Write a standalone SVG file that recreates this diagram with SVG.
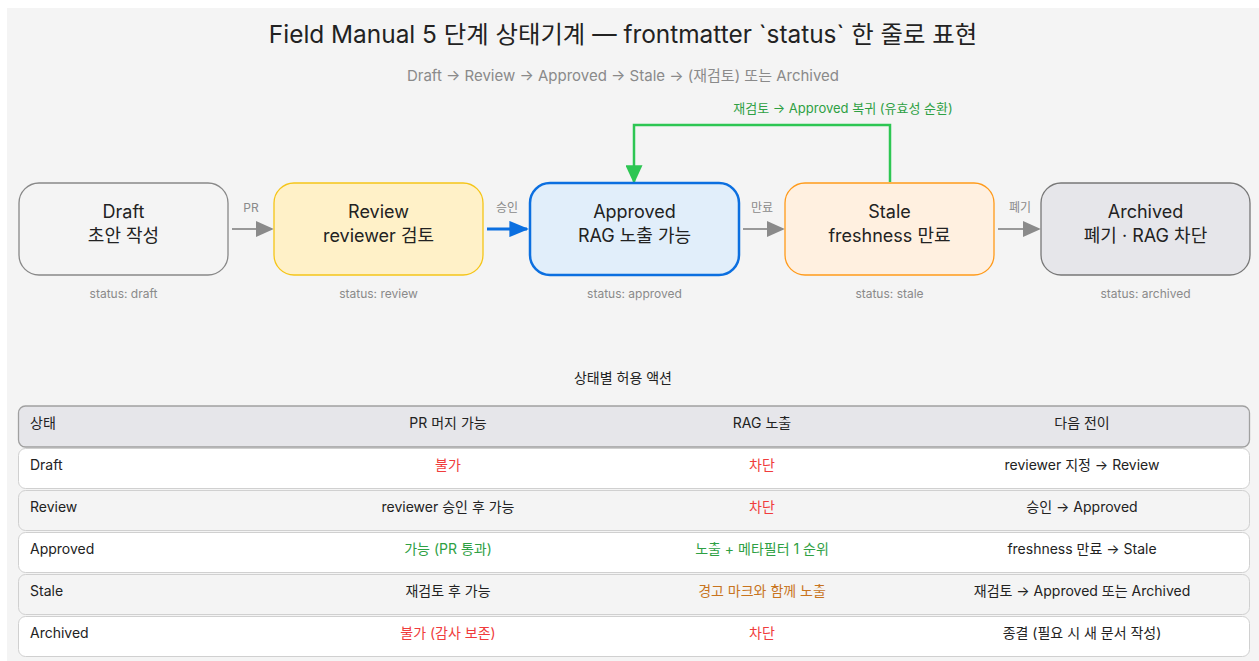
<svg xmlns="http://www.w3.org/2000/svg" width="1259" height="661" viewBox="0 0 1259 661">
<style>
text{font-family:Inter,"Noto Sans CJK KR",sans-serif;fill:#222}
.title{font-size:24.4px;text-anchor:middle}
.sub{font-size:15px;fill:#8a8a8a;text-anchor:middle}
.nl{font-size:18px;text-anchor:middle}
.st{font-size:12px;fill:#8a8a8a;text-anchor:middle}
.el{font-size:12px;fill:#8a8a8a;text-anchor:middle}
.tt{font-size:14px;text-anchor:middle}
.c{font-size:14px}
.m{text-anchor:middle}
.red{fill:#f03c3c}
.grn{fill:#2ea043}
.org{fill:#c8741e}
.row{stroke:#d0d0d0;stroke-width:1}
</style>
<defs>
<marker id="ag" viewBox="0 0 10 10" refX="9" refY="5" markerWidth="9" markerHeight="8" orient="auto" markerUnits="strokeWidth" preserveAspectRatio="none"><path d="M0,0L10,5L0,10z" fill="#8a8a8a"/></marker>
<marker id="ab" viewBox="0 0 10 10" refX="9" refY="5" markerWidth="7" markerHeight="5.8" orient="auto" markerUnits="strokeWidth" preserveAspectRatio="none"><path d="M0,0L10,5L0,10z" fill="#0b6fe0"/></marker>
<marker id="agr" viewBox="0 0 10 10" refX="9" refY="5" markerWidth="7.4" markerHeight="6.8" orient="auto" markerUnits="strokeWidth" preserveAspectRatio="none"><path d="M0,0L10,5L0,10z" fill="#2dc653"/></marker>
</defs>
<rect x="0" y="0" width="1259" height="661" fill="#fff"/>
<rect x="7" y="8" width="1252" height="653" fill="#f4f4f4"/>
<text class="title" x="623" y="43">Field Manual 5 단계 상태기계 — frontmatter `status` 한 줄로 표현</text>
<text class="sub" x="623" y="81">Draft → Review → Approved → Stale → (재검토) 또는 Archived</text>

<g id="connectors" fill="none">
<line x1="232" y1="229" x2="272" y2="229" stroke="#999" stroke-width="2" marker-end="url(#ag)"/>
<line x1="487" y1="229" x2="527" y2="229" stroke="#0b6fe0" stroke-width="2.8" marker-end="url(#ab)"/>
<line x1="743" y1="229" x2="783" y2="229" stroke="#999" stroke-width="2" marker-end="url(#ag)"/>
<line x1="998" y1="229" x2="1039" y2="229" stroke="#999" stroke-width="2" marker-end="url(#ag)"/>
<path d="M890,182V125H634V182" stroke="#2dc653" stroke-width="2.5" marker-end="url(#agr)"/>
<text class="el" x="251" y="212">PR</text>
<text class="el" x="507" y="212">승인</text>
<text class="el" x="762" y="212">만료</text>
<text class="el" x="1020" y="212">폐기</text>
<text x="843" y="113" style="font-size:13px;fill:#2ea043;text-anchor:middle">재검토 → Approved 복귀 (유효성 순환)</text>
</g>

<g id="draft">
<rect x="19" y="183" width="209" height="92" rx="20" fill="#f4f4f4" stroke="#888" stroke-width="1.3"/>
<text class="nl" x="123.5" y="218">Draft</text>
<text class="nl" x="123.5" y="242">초안 작성</text>
<text class="st" x="123.5" y="298">status: draft</text>
</g>
<g id="review">
<rect x="274" y="183" width="209" height="92" rx="20" fill="#fff1c8" stroke="#f5c518" stroke-width="1.3"/>
<text class="nl" x="378.5" y="218">Review</text>
<text class="nl" x="378.5" y="242">reviewer 검토</text>
<text class="st" x="378.5" y="298">status: review</text>
</g>
<g id="approved">
<rect x="530" y="183" width="209" height="92" rx="20" fill="#e1eefa" stroke="#0b6fe0" stroke-width="2.5"/>
<text class="nl" x="634.5" y="218">Approved</text>
<text class="nl" x="634.5" y="242">RAG 노출 가능</text>
<text class="st" x="634.5" y="298">status: approved</text>
</g>
<g id="stale">
<rect x="785" y="183" width="209" height="92" rx="20" fill="#fff0e0" stroke="#ff9a1a" stroke-width="1.3"/>
<text class="nl" x="889.5" y="218">Stale</text>
<text class="nl" x="889.5" y="242">freshness 만료</text>
<text class="st" x="889.5" y="298">status: stale</text>
</g>
<g id="archived">
<rect x="1041" y="183" width="209" height="92" rx="20" fill="#e6e6ea" stroke="#777" stroke-width="1.3"/>
<text class="nl" x="1145.5" y="218">Archived</text>
<text class="nl" x="1145.5" y="242">폐기 · RAG 차단</text>
<text class="st" x="1145.5" y="298">status: archived</text>
</g>

<g id="table">
<text class="tt" x="623" y="383">상태별 허용 액션</text>
<rect x="18.5" y="406" width="1231" height="41" rx="7" fill="#e6e6ea" stroke="#a0a0a0" stroke-width="1.3"/>
<text class="c" x="30" y="428">상태</text>
<text class="c m" x="448" y="428">PR 머지 가능</text>
<text class="c m" x="762" y="428">RAG 노출</text>
<text class="c m" x="1082" y="428">다음 전이</text>

<rect class="row" x="18.5" y="448.5" width="1231" height="40" rx="7" fill="#fff"/>
<text class="c" x="30" y="470">Draft</text>
<text class="c m red" x="448" y="470">불가</text>
<text class="c m red" x="762" y="470">차단</text>
<text class="c m" x="1082" y="470">reviewer 지정 → Review</text>

<rect class="row" x="18.5" y="490.5" width="1231" height="40" rx="7" fill="#f4f4f4"/>
<text class="c" x="30" y="512">Review</text>
<text class="c m" x="448" y="512">reviewer 승인 후 가능</text>
<text class="c m red" x="762" y="512">차단</text>
<text class="c m" x="1082" y="512">승인 → Approved</text>

<rect class="row" x="18.5" y="532.5" width="1231" height="40" rx="7" fill="#fff"/>
<text class="c" x="30" y="554">Approved</text>
<text class="c m grn" x="448" y="554">가능 (PR 통과)</text>
<text class="c m grn" x="762" y="554">노출 + 메타필터 1 순위</text>
<text class="c m" x="1082" y="554">freshness 만료 → Stale</text>

<rect class="row" x="18.5" y="574.5" width="1231" height="40" rx="7" fill="#f4f4f4"/>
<text class="c" x="30" y="596">Stale</text>
<text class="c m" x="448" y="596">재검토 후 가능</text>
<text class="c m org" x="762" y="596">경고 마크와 함께 노출</text>
<text class="c m" x="1082" y="596">재검토 → Approved 또는 Archived</text>

<rect class="row" x="18.5" y="616.5" width="1231" height="40" rx="7" fill="#fff"/>
<text class="c" x="30" y="638">Archived</text>
<text class="c m red" x="448" y="638">불가 (감사 보존)</text>
<text class="c m red" x="762" y="638">차단</text>
<text class="c m" x="1082" y="638">종결 (필요 시 새 문서 작성)</text>
</g>
</svg>
